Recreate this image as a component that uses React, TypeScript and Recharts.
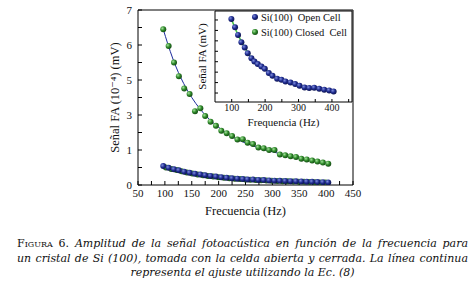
import React from "react";
import {
  ComposedChart,
  Line,
  Scatter,
  XAxis,
  YAxis,
} from "recharts";

// main plot: y values are in tick-position units (0..5), labelled 0,1,3,5,6,7 as printed
const yTickLabels = ["0", "1", "3", "5", "6", "7"];

const freqs = [
  97, 107, 117, 126, 136, 146, 156, 166, 175, 185, 195, 205, 215, 225, 235, 245,
  254, 264, 274, 284, 294, 304, 314, 324, 334, 344, 354, 364, 374, 384, 394, 404,
];

const upperClosed = [
  4.45, 3.97, 3.5, 3.11, 2.76, 2.6, 2.11, 2.19, 1.97, 1.81, 1.69, 1.55, 1.48, 1.4,
  1.3, 1.31, 1.21, 1.17, 1.07, 1.05, 1.0, 1.0, 0.87, 0.85, 0.82, 0.8, 0.75, 0.73,
  0.7, 0.67, 0.64, 0.61,
];

const lowerOpen = [
  0.54, 0.49, 0.45, 0.42, 0.38, 0.35, 0.32, 0.3, 0.28, 0.26, 0.24, 0.22, 0.205,
  0.19, 0.18, 0.17, 0.16, 0.155, 0.145, 0.14, 0.13, 0.125, 0.12, 0.115, 0.11,
  0.105, 0.1, 0.095, 0.09, 0.085, 0.08, 0.075,
];

const lowerClosedFreqs = [
  102, 112, 122, 131, 141, 151, 161, 171, 180, 190, 200, 210, 220, 230, 240, 250,
  259, 269, 279, 289, 299, 309, 319, 329, 339, 349, 359, 369, 379, 389, 399,
];
const lowerClosed = [
  0.5, 0.46, 0.43, 0.39, 0.36, 0.33, 0.3, 0.28, 0.26, 0.24, 0.225, 0.21, 0.195,
  0.18, 0.17, 0.16, 0.15, 0.145, 0.135, 0.13, 0.125, 0.115, 0.11, 0.105, 0.1,
  0.095, 0.09, 0.085, 0.08, 0.075, 0.07,
];

const upperFitFreqs = [97, 105, 115, 125, 135, 150, 165, 180, 200, 225, 250, 275, 300, 325, 350, 375, 405];
const upperFit = [4.45, 4.05, 3.6, 3.22, 2.9, 2.5, 2.18, 1.92, 1.65, 1.38, 1.2, 1.06, 0.95, 0.85, 0.76, 0.69, 0.61];

const lowerFitFreqs = [97, 130, 170, 220, 280, 340, 405];
const lowerFit = [0.54, 0.4, 0.29, 0.2, 0.14, 0.105, 0.075];

// inset (arbitrary units, tick marks only)
const insetFreqs = [
  99, 110, 119, 129, 139, 148, 159, 168, 178, 189, 199, 211, 222, 236, 249, 261,
  276, 290, 303, 318, 332, 347, 362, 377, 392, 405,
];
const insetOpen = [
  7.1, 6.3, 5.57, 4.87, 4.36, 3.82, 3.34, 3.02, 2.77, 2.54, 2.32, 1.91, 1.65, 1.37,
  1.27, 1.11, 1.01, 0.86, 0.7, 0.53, 0.48, 0.51, 0.41, 0.32, 0.25, 0.15,
];
const insetFitFreqs = [99, 120, 140, 160, 180, 200, 225, 250, 275, 300, 325, 350, 375, 405];
const insetFit = [7.1, 5.5, 4.3, 3.3, 2.75, 2.3, 1.62, 1.25, 1.0, 0.72, 0.55, 0.42, 0.32, 0.15];

const legendLabels = ["Si(100)\u00a0\u00a0Open Cell", "Si(100) Closed\u00a0\u00a0Cell"];

const captionLines = [
  "Amplitud de la señal fotoacústica en función de la frecuencia para",
  "un cristal de Si (100), tomada con la celda abierta y cerrada. La línea continua",
  "representa el ajuste utilizando la Ec. (8)",
];

const pts = (xs: number[], ys: number[]) => xs.map((f, i) => ({ f, v: ys[i] }));

const FONT = "'Liberation Serif', 'DejaVu Serif', serif";
const BLUE = "#1c2a9c";
const R = 3;

const Sphere = (fill: string) => (p: any) =>
  p.cx == null ? <g /> : <circle cx={p.cx} cy={p.cy} r={R} fill={fill} />;

const Defs = () => (
  <defs>
    <radialGradient id="gBlue" cx="35%" cy="35%" r="65%">
      <stop offset="0%" stopColor="#7f8ddc" />
      <stop offset="55%" stopColor="#1f2c90" />
      <stop offset="100%" stopColor="#0f1652" />
    </radialGradient>
    <radialGradient id="gGreen" cx="35%" cy="35%" r="65%">
      <stop offset="0%" stopColor="#a4e29c" />
      <stop offset="55%" stopColor="#2f8a2a" />
      <stop offset="100%" stopColor="#174f16" />
    </radialGradient>
  </defs>
);

const tickStyle = { fontFamily: FONT, fontSize: 11, fill: "#111" };

function MainChart() {
  return (
    <ComposedChart
      width={473}
      height={225}
      margin={{ top: 9, right: 119, left: 98, bottom: 10 }}
      style={{ position: "absolute", left: 0, top: 0 }}
    >
      <Defs />
      <XAxis
        type="number"
        dataKey="f"
        domain={[50, 450]}
        ticks={[50, 75, 100, 125, 150, 175, 200, 225, 250, 275, 300, 325, 350, 375, 400, 425, 450]}
        tickFormatter={(v: number) => (v % 50 === 0 ? String(v) : "")}
        tickSize={-4}
        tickMargin={8}
        height={30}
        interval={0}
        stroke="#000"
        tick={tickStyle}
        allowDataOverflow
        label={{ value: "Frecuencia (Hz)", position: "insideBottom", offset: 0, style: { fontFamily: FONT, fontSize: 12.5, fill: "#111" } }}
      />
      <XAxis xAxisId="t" orientation="top" type="number" domain={[50, 450]} height={1} tick={false} tickLine={false} stroke="#000" />
      <YAxis
        type="number"
        dataKey="v"
        domain={[0, 5]}
        ticks={[0, 0.5, 1, 1.5, 2, 2.5, 3, 3.5, 4, 4.5, 5]}
        tickFormatter={(v: number) => (Number.isInteger(v) ? yTickLabels[v] : "")}
        tickSize={-4}
        tickMargin={10}
        width={40}
        interval={0}
        stroke="#000"
        tick={tickStyle}
        allowDataOverflow
        label={{
          value: "Señal FA (10⁻⁴) (mV)",
          angle: -90,
          position: "insideLeft",
          offset: 17,
          style: { textAnchor: "middle", fontFamily: FONT, fontSize: 12.5, fill: "#111" },
        }}
      />
      <YAxis yAxisId="r" orientation="right" type="number" domain={[0, 5]} width={1} tick={false} tickLine={false} stroke="#000" />
      <Line data={pts(upperFitFreqs, upperFit)} dataKey="v" type="monotone" stroke={BLUE} strokeWidth={1} dot={false} isAnimationActive={false} />
      <Line data={pts(lowerFitFreqs, lowerFit)} dataKey="v" type="monotone" stroke={BLUE} strokeWidth={1} dot={false} isAnimationActive={false} />
      <Scatter data={pts(lowerClosedFreqs, lowerClosed)} dataKey="v" shape={Sphere("url(#gGreen)")} isAnimationActive={false} />
      <Scatter data={pts(freqs, lowerOpen)} dataKey="v" shape={Sphere("url(#gBlue)")} isAnimationActive={false} />
      <Scatter data={pts(freqs, upperClosed)} dataKey="v" shape={Sphere("url(#gGreen)")} isAnimationActive={false} />
    </ComposedChart>
  );
}

function InsetChart() {
  return (
    <ComposedChart
      width={473}
      height={130}
      margin={{ top: 10, right: 120, left: 200, bottom: 0 }}
      style={{ position: "absolute", left: 0, top: 0 }}
    >
      <Defs />
      <XAxis
        type="number"
        dataKey="f"
        domain={[50, 460]}
        ticks={[100, 150, 200, 250, 300, 350, 400, 450]}
        tickFormatter={(v: number) => (v % 100 === 0 ? String(v) : "")}
        tickSize={-3}
        tickMargin={5}
        height={28}
        interval={0}
        stroke="#000"
        tick={{ fontFamily: FONT, fontSize: 10, fill: "#111" }}
        allowDataOverflow
        label={{ value: "Frequencia (Hz)", position: "insideBottom", offset: 4, style: { fontFamily: FONT, fontSize: 11, fill: "#111" } }}
      />
      <XAxis xAxisId="t" orientation="top" type="number" domain={[50, 460]} height={1} tick={false} tickLine={false} stroke="#000" />
      <YAxis
        type="number"
        dataKey="v"
        domain={[-0.86, 7.86]}
        ticks={[0, 1, 2, 3, 4, 5, 6, 7]}
        tickFormatter={() => ""}
        tickSize={-3}
        width={15}
        interval={0}
        stroke="#000"
        allowDataOverflow
        label={{
          value: "Señal FA (mV)",
          angle: -90,
          position: "insideLeft",
          offset: 2,
          style: { textAnchor: "middle", fontFamily: FONT, fontSize: 11, fill: "#111" },
        }}
      />
      <YAxis yAxisId="r" orientation="right" type="number" domain={[0, 1]} width={1} tick={false} tickLine={false} stroke="#000" />
      <Line data={pts(insetFitFreqs, insetFit)} dataKey="v" type="monotone" stroke="#46c546" strokeWidth={1.6} dot={false} isAnimationActive={false} />
      <Scatter data={pts(insetFreqs, insetOpen)} dataKey="v" shape={Sphere("url(#gBlue)")} isAnimationActive={false} />
    </ComposedChart>
  );
}

export default function App() {
  return (
    <div style={{ position: "relative", width: 473, height: 292, background: "#fff", overflow: "hidden" }}>
      <style>{`body{margin:0}`}</style>
      <MainChart />
      <div style={{ position: "absolute", left: 215, top: 11, width: 137, height: 91, background: "#fff" }} />
      <InsetChart />
      <svg width={120} height={40} style={{ position: "absolute", left: 250, top: 8 }}>
        <Defs />
        {legendLabels.map((t, i) => (
          <g key={t}>
            <circle cx={5} cy={9 + i * 15} r={R} fill={i === 0 ? "url(#gBlue)" : "url(#gGreen)"} />
            <text x={11} y={13 + i * 15} fontFamily={FONT} fontSize={10.5} fill="#111">
              {t}
            </text>
          </g>
        ))}
      </svg>
      <div
        style={{
          position: "absolute",
          left: 17,
          top: 237,
          width: 451,
          fontFamily: "'DejaVu Serif', serif",
          fontSize: 11,
          lineHeight: "14.5px",
          color: "#111",
        }}
      >
        <div style={{ textAlign: "justify", textAlignLast: "justify", whiteSpace: "nowrap" }}>
          <span style={{ fontVariant: "small-caps" }}>Figura</span> 6.{" "}
          <i>{captionLines[0]}</i>
        </div>
        <div style={{ textAlign: "justify", textAlignLast: "justify", whiteSpace: "nowrap" }}>
          <i>{captionLines[1]}</i>
        </div>
        <div style={{ textAlign: "center" }}>
          <i>{captionLines[2]}</i>
        </div>
      </div>
    </div>
  );
}
